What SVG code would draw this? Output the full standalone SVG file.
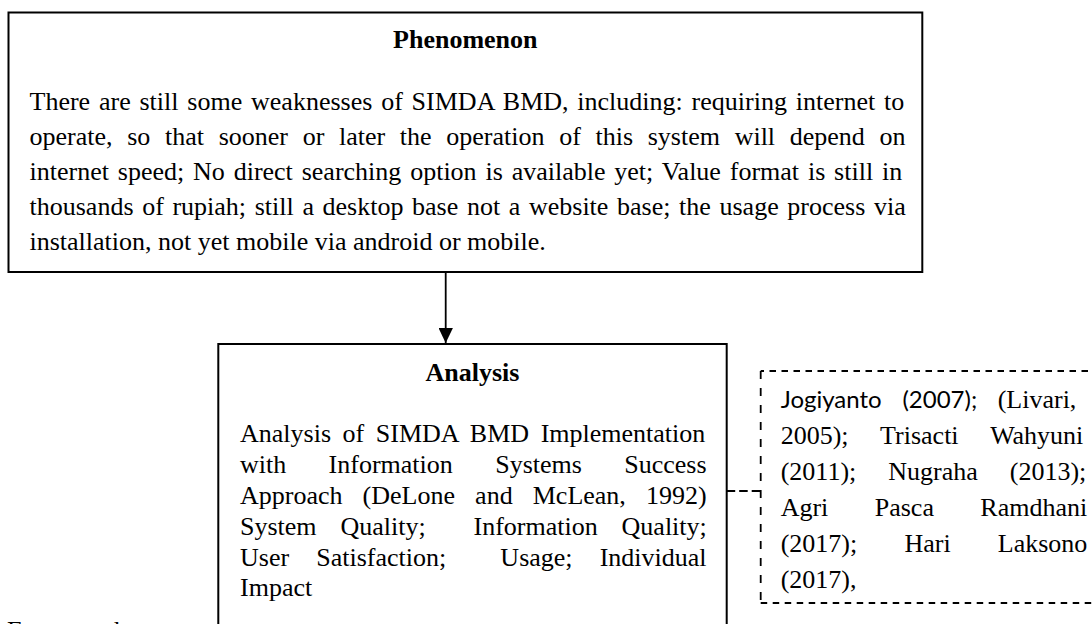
<svg xmlns="http://www.w3.org/2000/svg" width="1092" height="624" viewBox="0 0 1092 624">
<style>
.box{fill:#fff;stroke:#000;stroke-width:2}
.t{font-family:"Liberation Serif","Times New Roman",serif;font-size:26px;fill:#000}
.ttl{font-weight:bold;text-anchor:middle}
.sans{font-family:Lato,"Liberation Sans",sans-serif;font-size:24px}
.dsh{fill:none;stroke:#000;stroke-width:1.8}
.conn{fill:none;stroke:#000;stroke-width:1.8}
</style>
<defs>
<marker id="ah" markerUnits="userSpaceOnUse" viewBox="0 0 15 14.4" refX="15" refY="7.2" markerWidth="15" markerHeight="14.4" orient="auto">
<path d="M0,0 L15,7.2 L0,14.4 Z" fill="#000"/>
</marker>
</defs>
<rect width="1092" height="624" fill="#fff"/>

<g id="phenomenon">
<rect class="box" x="8.5" y="12.5" width="913.8" height="259.5"/>
<text class="t ttl" x="465.3" y="48">Phenomenon</text>
<text class="t" x="29.5" y="110" style="word-spacing:2.32px">There are still some weaknesses of SIMDA BMD, including: requiring internet to</text>
<text class="t" x="29.5" y="145" style="word-spacing:8.18px">operate, so that sooner or later the operation of this system will depend on</text>
<text class="t" x="29.5" y="180" style="word-spacing:2.35px">internet speed; No direct searching option is available yet; Value format is still in</text>
<text class="t" x="29.5" y="215" style="word-spacing:2.14px">thousands of rupiah; still a desktop base not a website base; the usage process via</text>
<text class="t" x="29.5" y="250">installation, not yet mobile via android or mobile.</text>
</g>

<g id="analysis">
<path class="box" d="M218.3,640 V344 H726.7 V640"/>
<text class="t ttl" x="472.5" y="381">Analysis</text>
<text class="t" x="240" y="442" style="word-spacing:5.1px">Analysis of SIMDA BMD Implementation</text>
<text class="t" x="240" y="473" style="word-spacing:35.9px">with Information Systems Success</text>
<text class="t" x="240" y="504" style="word-spacing:13.6px">Approach (DeLone and McLean, 1992)</text>
<text class="t" x="240" y="535" xml:space="preserve" style="word-spacing:17.4px">System Quality;  Information Quality;</text>
<text class="t" x="240" y="565.5" xml:space="preserve" style="word-spacing:20.6px">User Satisfaction;  Usage; Individual</text>
<text class="t" x="240" y="596">Impact</text>
</g>

<g id="references">
<path class="dsh" d="M1100,371 H760.7" stroke-dasharray="6.5 5.5"/>
<path class="dsh" d="M760.7,603 H1100" stroke-dasharray="6.5 5.5"/>
<path class="dsh" d="M760.7,371 V603" stroke-dasharray="8 9"/>
<text class="t" y="407.5"><tspan class="sans" x="780.7">Jogiyanto</tspan><tspan class="sans" x="902.4">(2007);</tspan><tspan x="997.7">(Livari,</tspan></text>
<text class="t" x="780.7" y="443.5" style="word-spacing:25.5px">2005); Trisacti Wahyuni</text>
<text class="t" x="780.7" y="479.5" style="word-spacing:25.5px">(2011); Nugraha (2013);</text>
<text class="t" x="780.7" y="515.5" style="word-spacing:39.9px">Agri Pasca Ramdhani</text>
<text class="t" x="780.7" y="551.5" style="word-spacing:40.7px">(2017); Hari Laksono</text>
<text class="t" x="780.7" y="587.5">(2017),</text>
</g>

<g id="connectors">
<line class="conn" x1="445.7" y1="272" x2="445.7" y2="343" marker-end="url(#ah)"/>
<line class="conn" x1="726.7" y1="491" x2="760.7" y2="491" stroke-dasharray="8.5 4"/>
</g>

<g id="caption">
<text class="t" x="7" y="638.5">Framework</text>
</g>
</svg>
